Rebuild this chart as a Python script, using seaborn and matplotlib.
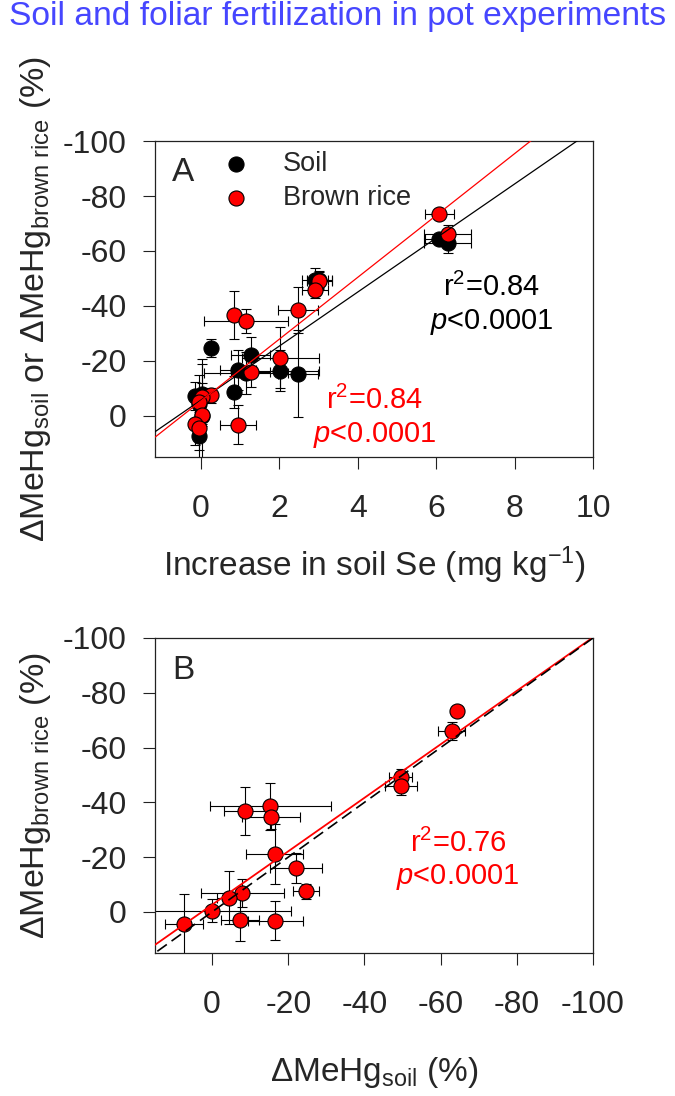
import numpy as np
import pandas as pd
import matplotlib
matplotlib.use('Agg')
import matplotlib.pyplot as plt
import seaborn as sns

# increase in soil Se (mg kg-1) for each pot treatment, and its error
se = [6.08, 6.29, 3.02, 2.91, 2.48, 0.85, 1.15, 2.02, 1.27, 0.27, 0.02, -0.05, 0.02, -0.15, -0.05, 0.95]
se_err = [0.37, 0.6, 0.32, 0.32, 0.51, 0.1, 1.08, 0.98, 0.49, 0.05, 0.05, 0.05, 0.05, 0.05, 0.05, 0.45]

# change of MeHg (%) in soil and in brown rice, same treatments
soil = [-64.4, -62.9, -49.5, -49.5, -15.3, -8.7, -15.5, -16.4, -22.0, -24.7, -7.9, -4.4, 0.0, -7.2, 7.4, -16.6]
soil_err = [1.3, 3.6, 3.1, 4.2, 15.8, 5.7, 7.6, 7.5, 6.8, 3.4, 10.9, 3.0, 20.8, 5.0, 5.0, 7.2]
rice = [-73.5, -66.0, -49.2, -45.8, -38.5, -36.7, -34.5, -21.2, -15.9, -7.5, -7.0, -5.2, -0.4, 2.8, 4.5, 3.2]
rice_err = [1.5, 3.3, 3.0, 3.0, 8.5, 8.8, 4.2, 11.0, 5.5, 2.7, 5.1, 9.6, 4.2, 7.9, 11.1, 7.0]

# tick labels
xticks_a = [0, 2, 4, 6, 8, 10]
pct_ticks = [0, -20, -40, -60, -80, -100]

# fit stats printed on the panels
stats_soil = ('0.84', '0.0001')
stats_rice = ('0.84', '0.0001')
stats_b = ('0.76', '0.0001')

df = pd.DataFrame(dict(se=se, se_err=se_err, soil=soil, soil_err=soil_err,
                       rice=rice, rice_err=rice_err))

sns.set_theme(style='ticks')
plt.rcParams['font.family'] = ['Liberation Sans', 'DejaVu Sans']
plt.rcParams['mathtext.fontset'] = 'custom'
plt.rcParams['mathtext.rm'] = 'Liberation Sans'
plt.rcParams['mathtext.it'] = 'Liberation Sans:italic'
plt.rcParams['axes.unicode_minus'] = False

fig = plt.figure(figsize=(6.75, 10.96), dpi=100)
ax1 = fig.add_axes([0.2296, 0.583, 0.649, 0.2883])
ax2 = fig.add_axes([0.2296, 0.1305, 0.649, 0.2874])

fig.text(0.5, 1 - 17 / 1096, 'Soil and foliar fertilization in pot experiments',
         color='#4646ff', fontsize=24.2, ha='center', va='center')

err_kw = dict(fmt='none', ecolor='black', elinewidth=0.8, capsize=3.3, capthick=0.8, zorder=1)
pt_kw = dict(s=118, edgecolor='black', linewidth=0.8, zorder=3)

# --- panel A ---
ax1.set_xlim(-1.17, 10)
ax1.set_ylim(15, -100)
ax1.errorbar(df.se, df.soil, xerr=df.se_err, yerr=df.soil_err, **err_kw)
ax1.errorbar(df.se, df.rice, xerr=df.se_err, yerr=df.rice_err, **err_kw)
sns.scatterplot(data=df, x='se', y='soil', color='black', label='Soil', ax=ax1, **pt_kw)
sns.scatterplot(data=df, x='se', y='rice', color='red', label='Brown rice', ax=ax1, **pt_kw)
sns.regplot(data=df, x='se', y='soil', scatter=False, ci=None, truncate=False,
            color='black', line_kws=dict(lw=0.9, zorder=4), ax=ax1)
sns.regplot(data=df, x='se', y='rice', scatter=False, ci=None, truncate=False,
            color='red', line_kws=dict(lw=0.9, zorder=4), ax=ax1)
ax1.set_xlim(-1.17, 10)
ax1.set_ylim(15, -100)
ax1.set_xticks(xticks_a)
ax1.set_yticks(pct_ticks)
ax1.set_xlabel('Increase in soil Se (mg kg$^{-1}$)', fontsize=24)
ax1.set_ylabel('ΔMeHg$_{\\mathrm{soil}}$ or ΔMeHg$_{\\mathrm{brown\\ rice}}$ (%)', fontsize=24.5)
ax1.xaxis.set_label_coords(0.5, -0.278)
ax1.yaxis.set_label_coords(-0.232, 0.5)
ax1.legend(loc='upper left', bbox_to_anchor=(0.154, 0.969), frameon=False,
           fontsize=19.5, handlelength=1, handletextpad=1.24, borderpad=0,
           borderaxespad=0, labelspacing=0.3)
ax1.text(0.064, 0.902, 'A', transform=ax1.transAxes, fontsize=24, ha='center', va='center')
ax1.text(0.769, 0.538, 'r$^{2}$=' + stats_soil[0], transform=ax1.transAxes,
         fontsize=21, ha='center', va='center', color='black')
ax1.text(0.769, 0.427, '$\\mathit{p}$<' + stats_soil[1], transform=ax1.transAxes,
         fontsize=21, ha='center', va='center', color='black')
ax1.text(0.502, 0.180, 'r$^{2}$=' + stats_rice[0], transform=ax1.transAxes,
         fontsize=21, ha='center', va='center', color='red')
ax1.text(0.502, 0.070, '$\\mathit{p}$<' + stats_rice[1], transform=ax1.transAxes,
         fontsize=21, ha='center', va='center', color='red')

# --- panel B ---
ax2.set_xlim(15, -100)
ax2.set_ylim(15, -100)
ax2.errorbar(df.soil, df.rice, xerr=df.soil_err, yerr=df.rice_err, **err_kw)
sns.scatterplot(data=df, x='soil', y='rice', color='red', ax=ax2, **pt_kw)
sns.regplot(data=df, x='soil', y='rice', scatter=False, ci=None, truncate=False,
            color='red', line_kws=dict(lw=1.3, zorder=4), ax=ax2)
ax2.axline((0, 0), slope=1, color='black', lw=1.2, ls=(0, (7, 3.5)), zorder=4)
ax2.set_xlim(15, -100)
ax2.set_ylim(15, -100)
ax2.set_xticks(pct_ticks)
ax2.set_yticks(pct_ticks)
ax2.set_xlabel('ΔMeHg$_{\\mathrm{soil}}$ (%)', fontsize=24)
ax2.set_ylabel('ΔMeHg$_{\\mathrm{brown\\ rice}}$ (%)', fontsize=24.5)
ax2.xaxis.set_label_coords(0.5, -0.325)
ax2.yaxis.set_label_coords(-0.232, 0.5)
ax2.text(0.064, 0.898, 'B', transform=ax2.transAxes, fontsize=24, ha='center', va='center')
ax2.text(0.692, 0.349, 'r$^{2}$=' + stats_b[0], transform=ax2.transAxes,
         fontsize=21, ha='center', va='center', color='red')
ax2.text(0.692, 0.241, '$\\mathit{p}$<' + stats_b[1], transform=ax2.transAxes,
         fontsize=21, ha='center', va='center', color='red')

for ax in (ax1, ax2):
    for sp in ax.spines.values():
        sp.set_visible(True)
        sp.set_linewidth(0.9)
        sp.set_color('#222222')
    ax.tick_params(direction='out', length=8.5, width=0.8, labelsize=23,
                   top=False, right=False, color='#222222')
    ax.tick_params(axis='x', pad=18)
    ax.tick_params(axis='y', pad=12)

fig.savefig('out.png', dpi=100)
